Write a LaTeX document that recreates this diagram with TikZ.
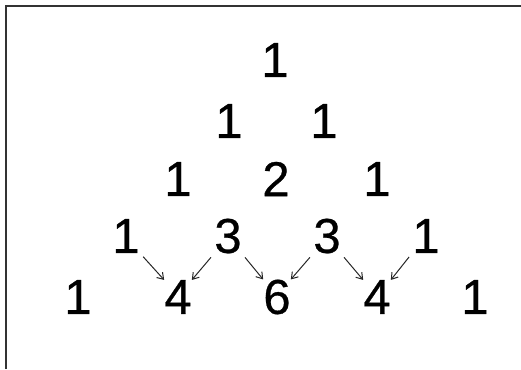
\documentclass[tikz,border=0pt]{standalone}
\usepackage{fontspec}
\setmainfont{Liberation Sans}
\newfontfamily\digitfont[FakeBold=0.6]{Liberation Sans}
\usepackage{tikz}
\usetikzlibrary{arrows.meta}

\begin{document}
\begin{tikzpicture}[x=1pt, y=-1pt,
    entry/.style={inner sep=0pt, font=\digitfont\fontsize{49}{49}\selectfont},
    sumarrow/.style={-{Straight Barb[length=6pt, width=8pt]}, black!85, line width=1pt,
                     shorten <=5pt, shorten >=0pt}]
  \useasboundingbox (0,0) rectangle (521,369);
  \draw[black!80, line width=2pt] (6,369) -- (6,6) -- (521,6);

  % row 1
  \node[entry] (r1a) at (275,60) {1};
  % row 2
  \node[entry] (r2a) at (229,121) {1};
  \node[entry] (r2b) at (324,121) {1};
  % row 3
  \node[entry] (r3a) at (178,179) {1};
  \node[entry] (r3b) at (276,179) {2};
  \node[entry] (r3c) at (377,179) {1};
  % row 4
  \node[entry] (r4a) at (126,236) {1};
  \node[entry] (r4b) at (228,236) {3};
  \node[entry] (r4c) at (327,236) {3};
  \node[entry] (r4d) at (426,236) {1};
  % row 5
  \node[entry] (r5a) at (78,297) {1};
  \node[entry] (r5b) at (178,297) {4};
  \node[entry] (r5c) at (277,297) {6};
  \node[entry] (r5d) at (377,297) {4};
  \node[entry] (r5e) at (475,297) {1};

  \draw[sumarrow] (r4a.south east) -- (r5b.north west);
  \draw[sumarrow] (r4b.south west) -- (r5b.north east);
  \draw[sumarrow] (r4b.south east) -- (r5c.north west);
  \draw[sumarrow] (r4c.south west) -- (r5c.north east);
  \draw[sumarrow] (r4c.south east) -- (r5d.north west);
  \draw[sumarrow] (r4d.south west) -- (r5d.north east);
\end{tikzpicture}
\end{document}
